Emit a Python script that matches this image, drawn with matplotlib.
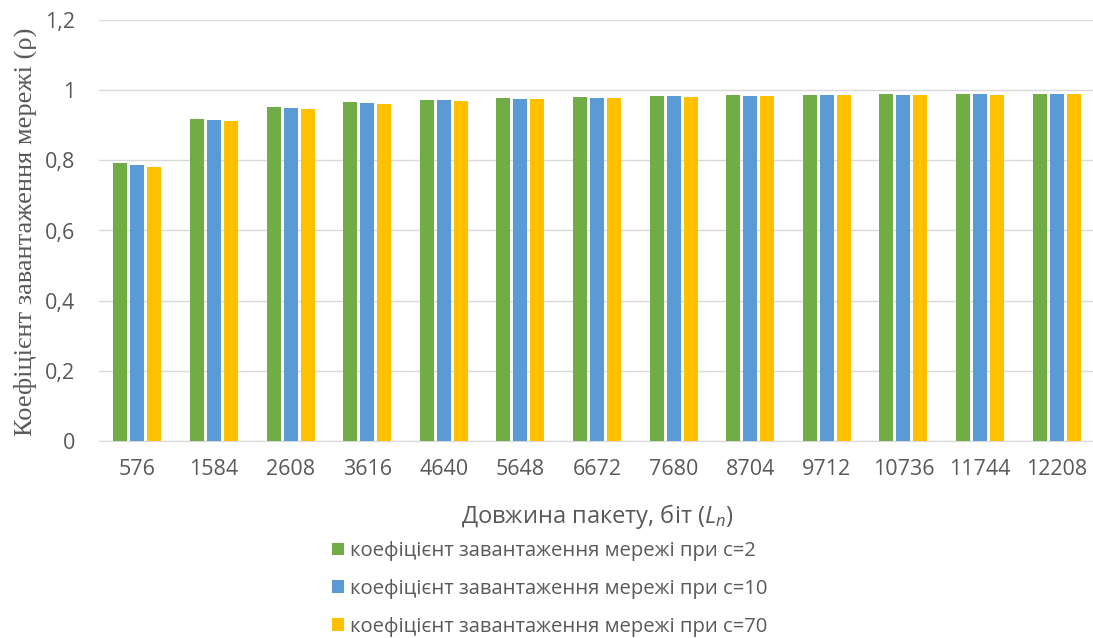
import matplotlib
matplotlib.use("Agg")
import matplotlib.pyplot as plt
import numpy as np

plt.rcParams['mathtext.fontset'] = 'custom'
plt.rcParams['mathtext.rm'] = 'Open Sans'
plt.rcParams['mathtext.it'] = 'Open Sans:italic'

packet_lengths = ["576", "1584", "2608", "3616", "4640", "5648", "6672",
                  "7680", "8704", "9712", "10736", "11744", "12208"]
rho_c2 = [0.792, 0.918, 0.951, 0.965, 0.972, 0.977, 0.980, 0.983, 0.985, 0.986, 0.988, 0.989, 0.989]
rho_c10 = [0.787, 0.916, 0.949, 0.963, 0.971, 0.976, 0.979, 0.982, 0.984, 0.986, 0.987, 0.988, 0.989]
rho_c70 = [0.781, 0.912, 0.946, 0.961, 0.969, 0.974, 0.977, 0.980, 0.983, 0.985, 0.986, 0.987, 0.988]

series = [
    ("коефіцієнт завантаження мережі при с=2", rho_c2, "#70ad47"),
    ("коефіцієнт завантаження мережі при с=10", rho_c10, "#5b9bd5"),
    ("коефіцієнт завантаження мережі при с=70", rho_c70, "#ffc000"),
]

text_color = "#595959"
sans = ["Open Sans", "DejaVu Sans"]
serif = ["Liberation Serif", "DejaVu Serif"]

fig = plt.figure(figsize=(10.93, 6.38), dpi=100)
ax = fig.add_axes([99 / 1093, 1 - 441 / 638, 996 / 1093, (441 - 20) / 638])

x = np.arange(len(packet_lengths))
width = 0.183
stride = 0.222
for i, (label, vals, color) in enumerate(series):
    ax.bar(x + (i - 1) * stride, vals, width, color=color, label=label, zorder=3)

ax.set_ylim(0, 1.2)
ax.set_yticks(np.arange(0, 1.21, 0.2))
ax.set_yticklabels(["0", "0,2", "0,4", "0,6", "0,8", "1", "1,2"])
ax.set_xlim(-0.5, len(packet_lengths) - 0.5)
ax.set_xticks(x)
ax.set_xticklabels(packet_lengths)
ax.grid(axis='y', color="#d9d9d9", linewidth=1, zorder=0)
for side in ["top", "right", "left"]:
    ax.spines[side].set_visible(False)
ax.spines["bottom"].set_color("#d9d9d9")
ax.tick_params(axis='x', length=0, labelsize=15.5, colors=text_color, pad=13)
ax.tick_params(axis='y', length=0, labelsize=15.5, colors=text_color, pad=17)
for lbl in ax.get_xticklabels() + ax.get_yticklabels():
    lbl.set_family(sans)

ax.set_xlabel("Довжина пакету, біт $\\mathit{(L_n)}$", fontsize=17, color=text_color,
              family=sans, labelpad=16)
fig.text(25 / 1093, 1 - 232 / 638, "Коефіцієнт завантаження мережі (ρ)", rotation=90,
         fontsize=19, family=serif, color=text_color, ha="center", va="center")

leg = fig.legend(loc="center", bbox_to_anchor=(550 / 1093, 1 - 589 / 638), ncol=1,
                 frameon=False, prop={"family": sans, "size": 14.6},
                 handlelength=0.6, handleheight=0.6, handletextpad=0.3, labelspacing=0.88)
for t in leg.get_texts():
    t.set_color(text_color)

fig.savefig("out.png", dpi=100)
